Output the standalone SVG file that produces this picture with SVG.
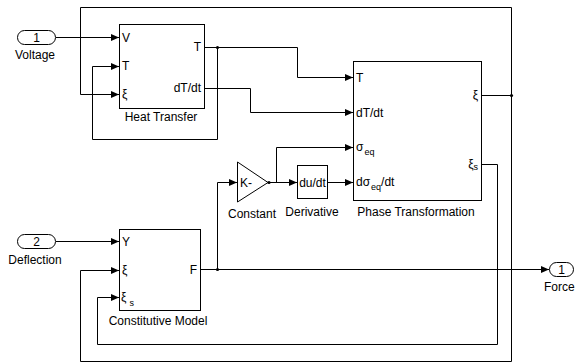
<svg xmlns="http://www.w3.org/2000/svg" width="576" height="364" viewBox="0 0 576 364">
<defs>
<style>
text{font-family:"Liberation Sans",Arial,sans-serif;font-size:12px;fill:#000}
.sub{font-size:9px}
.mid{text-anchor:middle}
.end{text-anchor:end}
.blk{fill:#fff;stroke:#000;stroke-width:1}
.w{fill:none;stroke:#000;stroke-width:1}
.a{marker-end:url(#arr)}
.dot{fill:#000}
</style>
<marker id="arr" markerUnits="userSpaceOnUse" markerWidth="9" markerHeight="8" refX="8" refY="3.5" orient="auto">
<path d="M0,0 L8,3.5 L0,7 z" fill="#000"/>
</marker>
</defs>
<rect width="576" height="364" fill="#fff"/>

<g id="connectors">
<path class="w a" d="M56,37.5 H119"/>
<path class="w a" d="M56,241.5 H119"/>
<path class="w a" d="M204,47.5 H297.5 V77.5 H353"/>
<path class="w a" d="M217.5,47.5 V139.5 H92.5 V66.5 H119"/>
<path class="w a" d="M204,88.5 H250.5 V112.5 H353"/>
<path class="w" d="M481,95.5 H511.5"/>
<path class="w a" d="M511.5,95.5 V7.5 H80.5 V94.5 H119"/>
<path class="w a" d="M511.5,95.5 V361.5 H80.5 V270.5 H119"/>
<path class="w a" d="M481,164.5 H497.5 V344.5 H97.5 V297.5 H119"/>
<path class="w a" d="M200,269.5 H549"/>
<path class="w a" d="M217.5,269.5 V182.5 H237"/>
<path class="w a" d="M268,182.5 H297"/>
<path class="w a" d="M276.5,182.5 V147.5 H353"/>
<path class="w a" d="M328,182.5 H353"/>
<circle class="dot" cx="217.5" cy="47.5" r="1.6"/>
<circle class="dot" cx="511.5" cy="95.5" r="1.6"/>
<circle class="dot" cx="217.5" cy="269.5" r="1.6"/>
<circle class="dot" cx="269" cy="182.5" r="1.6"/>
</g>

<g id="voltage">
<rect class="blk" x="17.5" y="30.5" width="38" height="14" rx="7"/>
<text class="mid" x="36.5" y="42">1</text>
<text class="mid" x="35" y="59">Voltage</text>
</g>

<g id="deflection">
<rect class="blk" x="17.5" y="234.5" width="38" height="14" rx="7"/>
<text class="mid" x="36.5" y="246">2</text>
<text class="mid" x="35" y="264">Deflection</text>
</g>

<g id="force">
<rect class="blk" x="549.5" y="262.5" width="24" height="14" rx="7"/>
<text class="mid" x="561.5" y="274">1</text>
<text x="544" y="291">Force</text>
</g>

<g id="heat-transfer">
<rect class="blk" x="119.5" y="24.5" width="85" height="84"/>
<text x="122" y="42">V</text>
<text x="122" y="70">T</text>
<text x="122" y="98">ξ</text>
<text class="end" x="201" y="51">T</text>
<text class="end" x="201" y="92">dT/dt</text>
<text class="mid" x="161" y="121">Heat Transfer</text>
</g>

<g id="phase-transformation">
<rect class="blk" x="353.5" y="61.5" width="128" height="139"/>
<text x="356" y="82">T</text>
<text x="356" y="117">dT/dt</text>
<text x="356" y="151">σ<tspan class="sub" dx="1" dy="4">eq</tspan></text>
<text x="356" y="186">dσ<tspan class="sub" dx="1" dy="4">eq</tspan><tspan dy="-4">/dt</tspan></text>
<text class="end" x="478" y="99">ξ</text>
<text class="end" x="478" y="168">ξ<tspan class="sub" dy="2">s</tspan></text>
<text class="mid" x="416" y="216">Phase Transformation</text>
</g>

<g id="constant">
<path class="blk" d="M237.5,162 L268,182.5 L237.5,202 z"/>
<text x="240" y="186.5">K-</text>
<text class="mid" x="252" y="218">Constant</text>
</g>

<g id="derivative">
<rect class="blk" x="297.5" y="165.5" width="30" height="33"/>
<text class="mid" x="312.5" y="186.5">du/dt</text>
<text class="mid" x="312" y="216">Derivative</text>
</g>

<g id="constitutive-model">
<rect class="blk" x="119.5" y="229.5" width="81" height="81"/>
<text x="122" y="246">Y</text>
<text x="122" y="274">ξ</text>
<text x="121" y="301">ξ<tspan class="sub" dx="3" dy="5">s</tspan></text>
<text class="end" x="197" y="274">F</text>
<text class="mid" x="158" y="325">Constitutive Model</text>
</g>
</svg>
